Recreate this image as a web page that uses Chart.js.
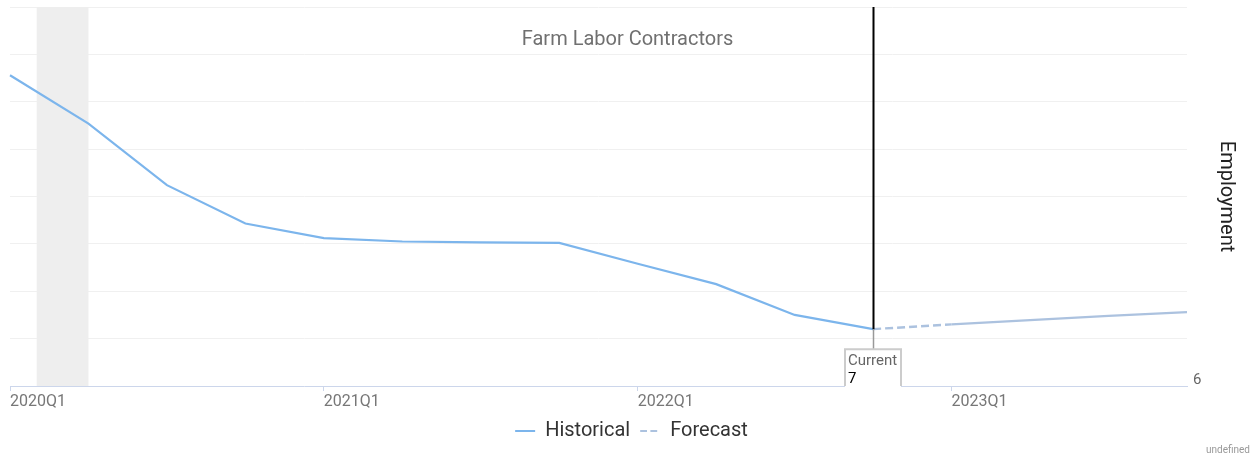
<!DOCTYPE html>
<html>
<head>
<meta charset="utf-8">
<script src="https://cdn.jsdelivr.net/npm/chart.js@4/dist/chart.umd.min.js"></script>
<style>
  html, body { margin: 0; padding: 0; background: #fff; }
  #wrap { width: 1253px; height: 456px; position: relative; }
</style>
</head>
<body>
<div id="wrap"><canvas id="c"></canvas></div>
<script>
const categories = ['2020Q1','2020Q2','2020Q3','2020Q4','2021Q1','2021Q2','2021Q3','2021Q4',
                    '2022Q1','2022Q2','2022Q3','2022Q4','2023Q1','2023Q2','2023Q3','2023Q4'];
const historical = [12.56, 11.54, 10.24, 9.43, 9.12, 9.05, 9.03, 9.02, 8.58, 8.15, 7.50, 7.20,
                    null, null, null, null];
const forecast = [null, null, null, null, null, null, null, null, null, null, null, 7.20,
                  7.30, 7.39, 7.48, 7.56];
const yMin = 6, yMax = 14, yStep = 1;
const yLabelShown = [6];
const recessionBand = [0.34, 1.0];   // category index range
const currentIndex = 11;
const chartTitle = 'Farm Labor Contractors';
const yTitle = 'Employment';
const currentText = 'Current';
const footerText = 'undefined';

Chart.defaults.font.family = 'Roboto, "Open Sans", sans-serif';

const overlay = {
  id: 'overlay',
  beforeDatasetsDraw(chart) {
    const {ctx, chartArea, scales: {x}} = chart;
    const x0 = x.getPixelForValue(recessionBand[0]);
    const x1 = x.getPixelForValue(recessionBand[1]);
    ctx.save();
    ctx.fillStyle = '#eeeeee';
    ctx.fillRect(x0, chartArea.top, x1 - x0, chartArea.bottom - chartArea.top);
    ctx.restore();
  },
  afterDatasetsDraw(chart) {
    const {ctx, chartArea, scales: {x, y}} = chart;
    const cx = Math.round(x.getPixelForValue(currentIndex)) + 0.5;
    const val = historical[currentIndex];
    const cy = y.getPixelForValue(val);
    ctx.save();
    ctx.strokeStyle = '#000';
    ctx.lineWidth = 2;
    ctx.beginPath();
    ctx.moveTo(cx, chartArea.top);
    ctx.lineTo(cx, cy);
    ctx.stroke();
    const boxTop = cy + 20;
    ctx.strokeStyle = '#999';
    ctx.lineWidth = 1.5;
    ctx.beginPath();
    ctx.moveTo(cx, cy);
    ctx.lineTo(cx, boxTop);
    ctx.stroke();
    // label box
    const bw = 56, bx = cx - 28.5;
    ctx.fillStyle = '#fff';
    ctx.fillRect(bx, boxTop, bw, chartArea.bottom - boxTop + 1);
    ctx.strokeStyle = '#cccccc';
    ctx.lineWidth = 2;
    ctx.beginPath();
    ctx.moveTo(bx, chartArea.bottom);
    ctx.lineTo(bx, boxTop);
    ctx.lineTo(bx + bw, boxTop);
    ctx.lineTo(bx + bw, chartArea.bottom);
    ctx.stroke();
    ctx.font = '15px Roboto';
    ctx.textAlign = 'left';
    ctx.textBaseline = 'middle';
    ctx.fillStyle = '#666';
    ctx.fillText(currentText, bx + 3, boxTop + 12);
    ctx.fillStyle = '#000';
    ctx.fillText(String(Math.round(val)), bx + 3, boxTop + 30);
    ctx.restore();
  },
  afterDraw(chart) {
    const {ctx, width} = chart;
    ctx.save();
    ctx.font = '20px Roboto';
    ctx.fillStyle = '#707070';
    ctx.textAlign = 'center';
    ctx.textBaseline = 'middle';
    ctx.fillText(chartTitle, width / 2 + 1, 40);
    ctx.font = '10px Roboto';
    ctx.fillStyle = '#999';
    ctx.textAlign = 'right';
    ctx.fillText(footerText, width - 3, 450);
    ctx.restore();
  }
};

new Chart(document.getElementById('c'), {
  type: 'line',
  data: {
    labels: categories,
    datasets: [
      {
        label: 'Historical',
        data: historical,
        borderColor: '#7cb5ec',
        backgroundColor: '#7cb5ec',
        borderWidth: 2.2,
        pointRadius: 0,
        tension: 0,
        pointStyle: 'line'
      },
      {
        label: 'Forecast',
        data: forecast,
        borderColor: '#acc2df',
        backgroundColor: '#acc2df',
        borderWidth: 2.4,
        borderDash: [8, 4],
        pointRadius: 0,
        tension: 0,
        pointStyle: 'line',
        segment: {
          borderDash: ctx => ctx.p0DataIndex === currentIndex ? [8, 4] : []
        }
      }
    ]
  },
  options: {
    responsive: true,
    maintainAspectRatio: false,
    animation: false,
    layout: { padding: { left: 10, top: 7, right: 0, bottom: 5 } },
    plugins: {
      title: { display: false },
      tooltip: { enabled: false },
      legend: {
        position: 'bottom',
        labels: {
          usePointStyle: true,
          pointStyle: 'line',
          pointStyleWidth: 20,
          color: '#333',
          padding: 10,
          font: { size: 20 },
          generateLabels(chart) {
            const items = Chart.defaults.plugins.legend.labels.generateLabels(chart);
            items.forEach(it => {
              const ds = chart.data.datasets[it.datasetIndex];
              it.lineDash = ds.borderDash ? ds.borderDash.slice(0, 2).map(v => v * 0.85) : [];
              it.lineWidth = 2;
            });
            return items;
          }
        }
      }
    },
    scales: {
      x: {
        afterFit(s) { s.height = 25; },
        border: { color: '#ccd6eb', width: 1 },
        grid: {
          drawOnChartArea: false,
          drawTicks: true,
          tickLength: 5,
          tickColor: ctx => (ctx.index % 4 === 0 ? '#ccd6eb' : 'rgba(0,0,0,0)')
        },
        ticks: {
          autoSkip: false,
          maxRotation: 0,
          align: 'start',
          padding: 1,
          color: '#777',
          font: { size: 16 },
          callback: (v, i) => (categories[i].endsWith('Q1') ? categories[i] : '')
        }
      },
      y: {
        position: 'right',
        min: yMin,
        max: yMax,
        afterFit(s) { s.width = 66; s.paddingTop = 0; s.paddingBottom = 0; },
        border: { display: false },
        grid: { color: '#f0f0f0', drawTicks: false, lineWidth: 1 },
        ticks: {
          stepSize: yStep,
          padding: 6,
          color: '#666',
          font: { size: 15, lineHeight: 0.8 },
          callback: v => (yLabelShown.includes(v) ? [String(v), ''] : '')
        },
        title: {
          display: true,
          text: yTitle,
          color: '#222',
          font: { size: 20 },
          padding: { top: 15, bottom: 0 }
        }
      }
    }
  },
  plugins: [overlay]
});
</script>
</body>
</html>
